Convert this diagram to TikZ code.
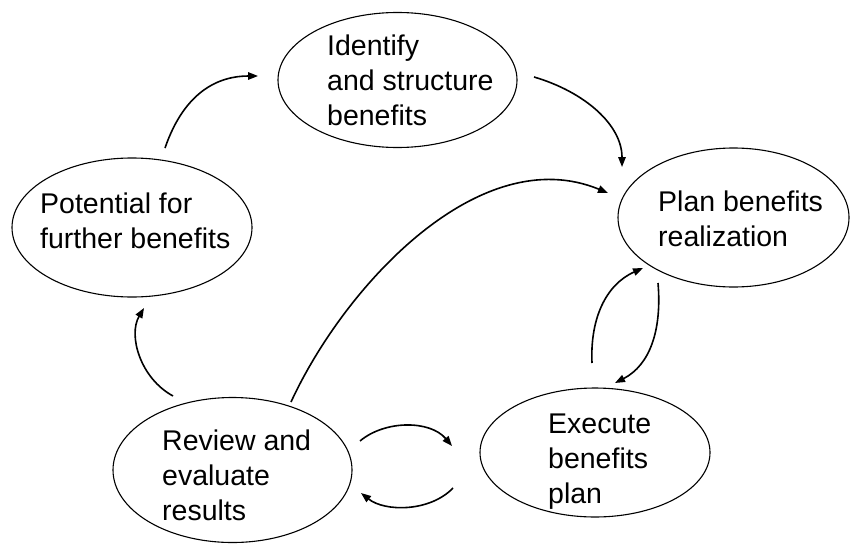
\documentclass[tikz,border=0pt]{standalone}
\usepackage{fontspec}
\setmainfont{Liberation Sans}
\usetikzlibrary{shapes.geometric,arrows.meta}
\tikzset{
  stage/.style={draw, ellipse, line width=1.1pt, inner sep=0pt},
  label/.style={anchor=base west, align=left, inner sep=0pt, font=\fontsize{28.5}{35}\selectfont},
  flow/.style={line width=1.6pt, -{Triangle[length=10pt,width=7.5pt]}}
}
\begin{document}
\begin{tikzpicture}[x=1pt,y=-1pt]
\useasboundingbox (0,0) rectangle (850,543);
% ellipses
\node[stage, minimum width=239pt, minimum height=135pt] (identify) at (397.5,80) {};
\node[stage, minimum width=240pt, minimum height=139pt] (potential) at (132,227.5) {};
\node[stage, minimum width=231pt, minimum height=139pt] (plan) at (733.5,217.5) {};
\node[stage, minimum width=239pt, minimum height=145pt] (review) at (232.5,470) {};
\node[stage, minimum width=230pt, minimum height=129pt] (execute) at (595,452.5) {};
% texts (anchor = baseline of last line)
\node[label] (identifyt) at (327,125) {Identify\\and structure\\benefits};
\node[label] (potentialt) at (40,248) {Potential for\\further benefits};
\node[label] (plant) at (658,246) {Plan benefits\\realization};
\node[label] (reviewt) at (162,520) {Review and\\evaluate\\results};
\node[label] (executet) at (548,503) {Execute\\benefits\\plan};
% connector ends
\coordinate (a1s) at (165,148); \coordinate (a1e) at (258,76);
\coordinate (a2s) at (534,77);  \coordinate (a2e) at (622,167);
\coordinate (a3s) at (291,402); \coordinate (a3e) at (608,193);
\coordinate (a4s) at (592,363); \coordinate (a4e) at (643,268);
\coordinate (a5s) at (658,283); \coordinate (a5e) at (615,383);
\coordinate (a6s) at (360,441); \coordinate (a6e) at (452,446);
\coordinate (a7s) at (453,488); \coordinate (a7e) at (361,493);
\coordinate (a8s) at (173,396); \coordinate (a8e) at (144,308);
% connectors
\draw[flow] (a1s) .. controls (185,90) and (220,76) .. (a1e);
\draw[flow] (a2s) .. controls (585,92) and (622,125) .. (a2e);
\draw[flow] (a3s) .. controls (345,285) and (480,140) .. (a3e);
\draw[flow] (a4s) .. controls (590,320) and (605,285) .. (a4e);
\draw[flow] (a5s) .. controls (662,330) and (650,365) .. (a5e);
\draw[flow] (a6s) .. controls (385,420) and (430,420) .. (a6e);
\draw[flow] (a7s) .. controls (430,512) and (385,512) .. (a7e);
\draw[flow] (a8s) .. controls (140,378) and (128,335) .. (a8e);
\end{tikzpicture}
\end{document}
